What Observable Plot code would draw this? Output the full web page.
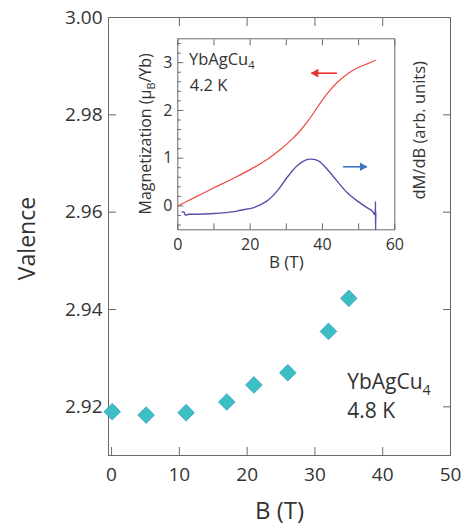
<!DOCTYPE html>
<html><head><meta charset="utf-8">
<script src="https://cdn.jsdelivr.net/npm/d3@7"></script>
<script src="https://cdn.jsdelivr.net/npm/@observablehq/plot@0.6"></script>
<style>
html,body{margin:0;padding:0;background:#fff;}
#wrap{position:relative;width:465px;height:525px;overflow:hidden;}
#wrap svg{position:absolute;left:0;top:0;}
</style></head><body><div id="wrap"></div>
<script>
// ---- main panel: valence vs field (4.8 K)
const fieldB  = [0.1, 5.1, 11.0, 17.0, 21.0, 26.0, 32.0, 35.0];
const valence = [2.9190, 2.9183, 2.9188, 2.9210, 2.9245, 2.9270, 2.9355, 2.9423];
const mainXTicks = [0, 10, 20, 30, 40, 50];
const mainTopTicks = [10, 20, 30, 40];
const mainYTicks = [2.92, 2.94, 2.96, 2.98, 3.00];

// ---- inset: magnetization (left axis) and dM/dB (arb. units) at 4.2 K
const magB = [0, 5, 10, 15, 20, 25, 28, 31.6, 34, 36.2, 39, 41.3, 44, 46, 48, 50.5, 52.5, 54.6];
const magM = [0, 0.19, 0.38, 0.565, 0.76, 0.99, 1.16, 1.40, 1.59, 1.80, 2.11, 2.35, 2.58, 2.71, 2.82, 2.92, 2.98, 3.05];
const dmdbB = [1.2, 1.7, 2.1, 3, 5, 10, 15.5, 17.3, 21, 24.7, 27.5, 30.2, 33, 35.3, 36.9, 39, 41.3, 44, 46.8, 49.6, 52.3, 53.5, 54.1, 54.4, 54.6, 54.65, 54.7, 54.75];
const dmdbV = [-0.125, -0.13, -0.19, -0.175, -0.175, -0.16, -0.12, -0.09, -0.035, 0.105, 0.315, 0.595, 0.84, 0.96, 0.98, 0.94, 0.77, 0.525, 0.28, 0.105, -0.035, -0.09, -0.14, -0.18, -0.12, 0.09, -0.5, -0.15];
const insetXTicks = [0, 10, 20, 30, 40, 50, 60];
const insetYTicks = [0, 1, 2, 3];
const insetYMinor = [-0.4, -0.2, 0.2, 0.4, 0.6, 0.8, 1.2, 1.4, 1.6, 1.8, 2.2, 2.4, 2.6, 2.8, 3.2, 3.4];
// arrows: [magnetization -> left axis, dM/dB -> right axis]
const arrowFromB = [44.0, 45.7];
const arrowToB   = [36.9, 52.3];
const arrowLevel = [2.78, 0.82];

const FONT = "'Open Sans', 'Noto Sans', sans-serif";
const TXT = "#333";
const FRAME = "#6a6a6a";

const points = fieldB.map((b, i) => ({b, v: valence[i]}));
const mag = magB.map((b, i) => ({b, m: magM[i]}));
const dmdb = dmdbB.map((b, i) => ({b, d: dmdbV[i]}));
const arrows = arrowFromB.map((f, i) => ({from: f, to: arrowToB[i], level: arrowLevel[i]}));

const main = Plot.plot({
  width: 465, height: 525,
  marginLeft: 108, marginRight: 15, marginTop: 17, marginBottom: 70,
  x: {domain: [-0.45, 50]},
  y: {domain: [2.91, 3.0]},
  style: {fontFamily: FONT, color: TXT, background: "white"},
  marks: [
    Plot.frame({stroke: FRAME, strokeWidth: 1}),
    Plot.axisX({ticks: mainXTicks, tickSize: -8, tickPadding: 19.5, fontSize: 19, stroke: FRAME, label: null, tickFormat: d => String(d)}),
    Plot.axisX({anchor: "top", ticks: mainTopTicks, tickSize: -8, stroke: FRAME, label: null, tickFormat: () => ""}),
    Plot.axisY({ticks: mainYTicks, tickSize: -8, tickPadding: 14, fontSize: 19, stroke: FRAME, label: null, tickFormat: d3.format(".2f")}),
    Plot.axisY({anchor: "right", ticks: mainYTicks, tickSize: -8, stroke: FRAME, label: null, tickFormat: () => ""}),
    Plot.dot(points, {x: "b", y: "v", symbol: "diamond2", r: 7.5, fill: "#3cbfc3", stroke: "#3f9dcc", strokeWidth: 0.8}),
    Plot.text(["YbAgCu_4"], {frameAnchor: "top-left", dx: 238.7, dy: 365, textAnchor: "start", lineAnchor: "middle", fontSize: 21, fill: TXT}),
    Plot.text(["4.8 K"], {frameAnchor: "top-left", dx: 238.7, dy: 394, textAnchor: "start", lineAnchor: "middle", fontSize: 21, fill: TXT}),
    Plot.text(["Valence"], {frameAnchor: "left", dx: -80.4, dy: 2, rotate: -90, textAnchor: "middle", lineAnchor: "middle", fontSize: 23, fill: TXT}),
    Plot.text(["B (T)"], {frameAnchor: "bottom", dy: 56, textAnchor: "middle", lineAnchor: "middle", fontSize: 24, fill: TXT})
  ]
});

const inset = Plot.plot({
  width: 330, height: 260,
  marginLeft: 57.3, marginRight: 55.7, marginTop: 18.3, marginBottom: 50.7,
  x: {domain: [0, 60]},
  y: {domain: [-0.5, 3.5]},
  style: {fontFamily: FONT, color: TXT, background: "transparent", overflow: "visible"},
  marks: [
    Plot.frame({stroke: FRAME, strokeWidth: 1}),
    Plot.axisX({ticks: insetXTicks, tickSize: -6, tickPadding: 15, fontSize: 16, stroke: FRAME, label: null, tickFormat: d => d % 20 === 0 ? String(d) : ""}),
    Plot.axisX({anchor: "top", ticks: insetXTicks, tickSize: -6, stroke: FRAME, label: null, tickFormat: () => ""}),
    Plot.axisY({ticks: insetYTicks, tickSize: -6, tickPadding: 11.5, fontSize: 16, stroke: FRAME, label: null, tickFormat: d => String(d)}),
    Plot.axisY({ticks: insetYMinor, tickSize: -3.5, stroke: FRAME, label: null, tickFormat: () => ""}),
    Plot.line(mag, {x: "b", y: "m", curve: "catmull-rom", stroke: "#f0483e", strokeWidth: 1.2}),
    Plot.line(dmdb, {x: "b", y: "d", curve: "catmull-rom", stroke: "#5a4ca8", strokeWidth: 1.4}),
    Plot.link([arrows[0]], {x1: "from", x2: "to", y1: "level", y2: "level", stroke: "#e8342e", strokeWidth: 1.6}),
    Plot.dot([arrows[0]], {x: "to", y: "level", symbol: "triangle", rotate: -90, r: 3.2, dx: 4.5, fill: "#e8342e"}),
    Plot.link([arrows[1]], {x1: "from", x2: "to", y1: "level", y2: "level", stroke: "#3b74c4", strokeWidth: 1.6}),
    Plot.dot([arrows[1]], {x: "to", y: "level", symbol: "triangle", rotate: 90, r: 3.2, dx: -4.5, fill: "#3b74c4"}),
    Plot.text(["YbAgCu_4"], {frameAnchor: "top-left", dx: 11.2, dy: 21.2, textAnchor: "start", lineAnchor: "middle", fontSize: 16.5, fill: TXT}),
    Plot.text(["4.2 K"], {frameAnchor: "top-left", dx: 12, dy: 47, textAnchor: "start", lineAnchor: "middle", fontSize: 16.5, fill: TXT}),
    Plot.text(["B (T)"], {frameAnchor: "bottom", dy: 32.5, textAnchor: "middle", lineAnchor: "middle", fontSize: 17, fill: TXT}),
    Plot.text(["Magnetization (μ_B/Yb)"], {frameAnchor: "left", dx: -32.4, dy: -0.5, rotate: -90, textAnchor: "middle", lineAnchor: "middle", fontSize: 16, fill: TXT}),
    Plot.text(["dM/dB (arb. units)"], {frameAnchor: "right", dx: 25.4, dy: -4, rotate: -90, textAnchor: "middle", lineAnchor: "middle", fontSize: 16.5, fill: TXT})
  ]
});

const wrap = document.getElementById("wrap");
wrap.appendChild(main);
wrap.appendChild(inset);
inset.style.left = "120px";
inset.style.top = "20px";

// render "_x" as a real subscript
const NS = "http://www.w3.org/2000/svg";
for (const svg of [main, inset]) {
  svg.querySelectorAll("text").forEach(t => {
    const s = t.textContent;
    if (!s.includes("_")) return;
    const fs = parseFloat(getComputedStyle(t).fontSize) || 16;
    const parts = s.split(/_(.)/);
    while (t.firstChild) t.removeChild(t.firstChild);
    parts.forEach((p, i) => {
      if (!p) return;
      const sp = document.createElementNS(NS, "tspan");
      sp.textContent = p;
      if (i % 2 === 1) {
        sp.setAttribute("font-size", (fs * 0.68).toFixed(1));
        sp.setAttribute("dy", (fs * 0.25).toFixed(1));
      } else if (i > 0) {
        sp.setAttribute("dy", (-fs * 0.25).toFixed(1));
      }
      t.appendChild(sp);
    });
  });
}
</script></body></html>
